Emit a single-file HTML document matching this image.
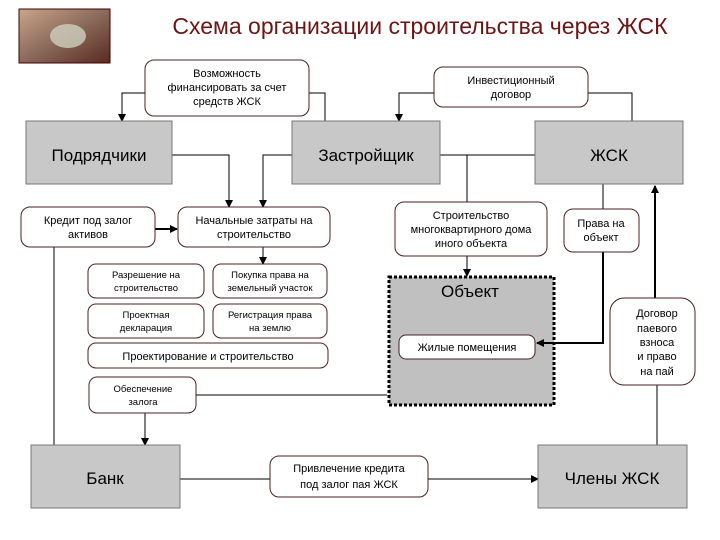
<!DOCTYPE html>
<html><head><meta charset="utf-8"><style>
html,body{margin:0;padding:0;background:#fff;}
svg{display:block;}
text{font-family:"Liberation Sans",sans-serif;}
</style></head><body>
<svg width="720" height="540" viewBox="0 0 720 540" xmlns="http://www.w3.org/2000/svg">
<defs>
<marker id="a" markerWidth="8" markerHeight="8" refX="7" refY="4" orient="auto" markerUnits="userSpaceOnUse"><path d="M0,0 L8,4 L0,8 z" fill="#000"/></marker>
<linearGradient id="img" x1="0" y1="0" x2="1" y2="1"><stop offset="0" stop-color="#c9a58a"/><stop offset="0.5" stop-color="#8a6a5a"/><stop offset="1" stop-color="#5a2a20"/></linearGradient>
</defs>
<rect x="19" y="9" width="91" height="54" fill="url(#img)" stroke="#400" stroke-width="1"/>
<ellipse cx="68" cy="36" rx="18" ry="12" fill="#cfcfbf" opacity="0.8"/>
<text x="420" y="34" font-size="23" fill="#6b1515" text-anchor="middle">Схема организации строительства через ЖСК</text>

<g stroke="#000" stroke-width="1" fill="none">
<polyline points="145,93 122,93 122,121" marker-end="url(#a)"/>
<polyline points="309,93 325,93 325,121"/>
<polyline points="434,93 399,93 399,121" marker-end="url(#a)"/>
<polyline points="588,93 632,93 632,121"/>
<polyline points="172,155 229,155 229,207" marker-end="url(#a)"/>
<polyline points="292,155 263,155 263,207" marker-end="url(#a)"/>
<line x1="440" y1="155" x2="535" y2="155"/>
<line x1="467" y1="155" x2="467" y2="202"/>
<line x1="603" y1="184" x2="603" y2="209"/>
<line x1="263" y1="247" x2="263" y2="264" marker-end="url(#a)"/>
<line x1="54" y1="247" x2="54" y2="445"/>
<line x1="196" y1="395" x2="387" y2="395"/>
<line x1="145" y1="413" x2="145" y2="445" marker-end="url(#a)"/>
<line x1="657" y1="385" x2="657" y2="445"/>
<line x1="180" y1="479" x2="270" y2="479"/>
<line x1="428" y1="479" x2="538" y2="479" marker-end="url(#a)"/>
</g>

<g fill="#c8c8c8" stroke="#777" stroke-width="1">
<rect x="26" y="121" width="146" height="63"/>
<rect x="292" y="121" width="148" height="63"/>
<rect x="535" y="121" width="148" height="63"/>
<rect x="31" y="445" width="149" height="63"/>
<rect x="538" y="445" width="149" height="63"/>
</g>
<rect x="389" y="277" width="165" height="128" fill="#c0c0c0" stroke="#000" stroke-width="3" stroke-dasharray="3,2"/>

<g stroke="#000" stroke-width="1" fill="none">
<line x1="467" y1="256" x2="467" y2="276" marker-end="url(#a)"/>
</g>
<g stroke="#000" stroke-width="2" fill="none">
<polyline points="603,252 603,343 537,343" marker-end="url(#a)"/>
<line x1="655" y1="298" x2="655" y2="186" marker-end="url(#a)"/>
<line x1="155" y1="229" x2="177" y2="229" marker-end="url(#a)"/>
</g>

<g fill="#fff" stroke="#4a2020" stroke-width="1">
<rect x="145" y="60" width="164" height="56" rx="9"/>
<rect x="434" y="67" width="154" height="40" rx="9"/>
<rect x="21" y="207" width="134" height="40" rx="9"/>
<rect x="178" y="207" width="152" height="40" rx="9"/>
<rect x="395" y="202" width="152" height="54" rx="9"/>
<rect x="564" y="209" width="75" height="43" rx="9"/>
<rect x="88" y="264" width="116" height="34" rx="8"/>
<rect x="213" y="264" width="114" height="34" rx="8"/>
<rect x="88" y="304" width="116" height="34" rx="8"/>
<rect x="213" y="304" width="114" height="34" rx="8"/>
<rect x="88" y="343" width="240" height="25" rx="8"/>
<rect x="89" y="377" width="107" height="36" rx="8"/>
<rect x="399" y="335" width="136" height="24" rx="7"/>
<rect x="610" y="298" width="85" height="87" rx="14"/>
<rect x="270" y="456" width="158" height="41" rx="9"/>
</g>

<g font-size="11" text-anchor="middle" fill="#000">
<text x="227" y="77">Возможность</text>
<text x="227" y="91">финансировать за счет</text>
<text x="227" y="105">средств ЖСК</text>
<text x="511" y="84">Инвестиционный</text>
<text x="511" y="98">договор</text>
<text x="88" y="224">Кредит под залог</text>
<text x="88" y="238">активов</text>
<text x="254" y="224">Начальные затраты на</text>
<text x="254" y="238">строительство</text>
<text x="471" y="219">Строительство</text>
<text x="471" y="233">многоквартирного дома</text>
<text x="471" y="247">иного объекта</text>
<text x="601" y="227">Права на</text>
<text x="601" y="241">объект</text>
<text x="657" y="317">Договор</text>
<text x="657" y="332">паевого</text>
<text x="657" y="346">взноса</text>
<text x="657" y="360">и право</text>
<text x="657" y="375">на пай</text>
<text x="467" y="351">Жилые помещения</text>
<text x="208" y="360">Проектирование и строительство</text>
<text x="349" y="472">Привлечение кредита</text>
<text x="349" y="488">под залог пая ЖСК</text>
</g>
<g font-size="9.5" text-anchor="middle" fill="#000">
<text x="146" y="278">Разрешение на</text>
<text x="146" y="291">строительство</text>
<text x="270" y="278">Покупка права на</text>
<text x="270" y="291">земельный участок</text>
<text x="146" y="318">Проектная</text>
<text x="146" y="331">декларация</text>
<text x="270" y="318">Регистрация права</text>
<text x="270" y="331">на землю</text>
<text x="143" y="392">Обеспечение</text>
<text x="143" y="405">залога</text>
</g>
<g font-size="17" text-anchor="middle" fill="#000">
<text x="99" y="161">Подрядчики</text>
<text x="366" y="161">Застройщик</text>
<text x="609" y="161">ЖСК</text>
<text x="105" y="484">Банк</text>
<text x="612" y="484">Члены ЖСК</text>
<text x="470" y="297">Объект</text>
</g>
</svg>
</body></html>
